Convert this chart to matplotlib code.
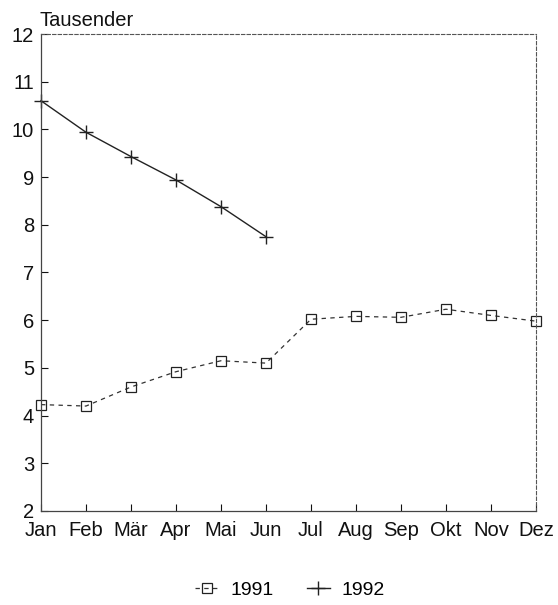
import matplotlib
matplotlib.use("Agg")
import matplotlib.pyplot as plt

plt.rcParams['font.family'] = ['Liberation Sans', 'DejaVu Sans']

months = ["Jan", "Feb", "Mär", "Apr", "Mai", "Jun", "Jul", "Aug", "Sep", "Okt", "Nov", "Dez"]
values_1991 = [4.23, 4.2, 4.6, 4.92, 5.15, 5.1, 6.02, 6.08, 6.06, 6.23, 6.1, 5.98]
values_1992 = [10.6, 9.94, 9.43, 8.94, 8.38, 7.75]
y_ticks = [2, 3, 4, 5, 6, 7, 8, 9, 10, 11, 12]

fig = plt.figure(figsize=(5.58, 6.05), dpi=100)
ax = fig.add_axes([0.0735, 0.1554, 0.887, 0.7884])

x91 = list(range(len(values_1991)))
x92 = list(range(len(values_1992)))
ax.plot(x91, values_1991, linestyle=(0, (3.5, 3.5)), color="#333333", linewidth=0.9,
        marker="s", markersize=6.5, markerfacecolor="none", markeredgecolor="#222222",
        markeredgewidth=0.9, label="1991", clip_on=False)
ax.plot(x92, values_1992, linestyle="-", color="#222222", linewidth=1.0,
        marker="+", markersize=10, markeredgewidth=1.0, label="1992", clip_on=False)

ax.set_xlim(0, len(months) - 1)
ax.set_ylim(2, 12)
ax.set_xticks(x91)
ax.set_xticklabels(months)
ax.set_yticks(y_ticks)
ax.tick_params(axis="both", direction="in", length=5, width=0.8, labelsize=14.5, colors="#111111")
ax.tick_params(axis="x", pad=7)
ax.tick_params(axis="y", pad=5)

for s in ["left", "bottom"]:
    ax.spines[s].set_linewidth(0.9)
    ax.spines[s].set_color("#444444")
for s in ["top", "right"]:
    ax.spines[s].set_linewidth(0.8)
    ax.spines[s].set_color("#555555")
    ax.spines[s].set_linestyle((0, (3, 2)))

fig.text(0.07, 0.957, "Tausender", fontsize=14.5, ha="left", va="baseline", color="#111111")

fig.legend(loc="center", bbox_to_anchor=(0.52, 0.025), ncol=2, frameon=False,
           fontsize=14, handlelength=1.2, columnspacing=1.7, handletextpad=0.6)

fig.savefig("out.png", dpi=100, facecolor="white")
